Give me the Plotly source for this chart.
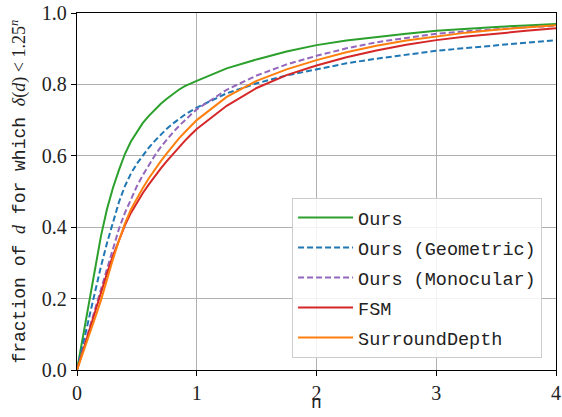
import plotly.graph_objects as go

x_vals = [0, 0.05, 0.1, 0.15, 0.2, 0.25, 0.3, 0.35, 0.4, 0.45, 0.5, 0.55, 0.6, 0.65, 0.7, 0.75, 0.8, 0.85, 0.9, 0.95, 1.0,
          1.25, 1.5, 1.75, 2.0, 2.25, 2.5, 2.75, 3.0, 3.25, 3.5, 3.75, 4.0]

ours = [0, 0.095, 0.19, 0.285, 0.375, 0.45, 0.51, 0.56, 0.605, 0.64, 0.668, 0.692, 0.712, 0.73, 0.746, 0.76, 0.773, 0.785, 0.795, 0.803, 0.81,
        0.845, 0.87, 0.892, 0.91, 0.923, 0.933, 0.942, 0.95, 0.956, 0.961, 0.965, 0.969]
ours_geometric = [0, 0.073, 0.145, 0.218, 0.29, 0.355, 0.415, 0.47, 0.515, 0.55, 0.578, 0.602, 0.623, 0.642, 0.66, 0.676, 0.69, 0.703, 0.715, 0.725, 0.735,
                  0.775, 0.803, 0.825, 0.843, 0.859, 0.872, 0.884, 0.894, 0.902, 0.91, 0.917, 0.924]
ours_monocular = [0, 0.057, 0.115, 0.172, 0.23, 0.285, 0.34, 0.395, 0.44, 0.48, 0.515, 0.546, 0.575, 0.601, 0.625, 0.646, 0.665, 0.683, 0.70, 0.715, 0.73,
                  0.785, 0.825, 0.856, 0.88, 0.901, 0.918, 0.931, 0.942, 0.949, 0.955, 0.96, 0.964]
fsm = [0, 0.055, 0.11, 0.163, 0.215, 0.27, 0.32, 0.365, 0.405, 0.44, 0.47, 0.496, 0.52, 0.543, 0.565, 0.585, 0.605, 0.624, 0.642, 0.659, 0.675,
       0.74, 0.79, 0.826, 0.853, 0.876, 0.895, 0.911, 0.924, 0.934, 0.943, 0.95, 0.957]
surrounddepth = [0, 0.047, 0.095, 0.145, 0.195, 0.255, 0.31, 0.362, 0.41, 0.45, 0.482, 0.51, 0.537, 0.562, 0.585, 0.607, 0.628, 0.648, 0.666, 0.683, 0.70,
                 0.765, 0.81, 0.842, 0.868, 0.89, 0.908, 0.923, 0.935, 0.945, 0.953, 0.96, 0.966]

series = [
    ("Ours", ours, "#2ca02c", "solid"),
    ("Ours (Geometric)", ours_geometric, "#1f77b4", "6px,3px"),
    ("Ours (Monocular)", ours_monocular, "#9467bd", "6px,3px"),
    ("FSM", fsm, "#d62728", "solid"),
    ("SurroundDepth", surrounddepth, "#ff7f0e", "solid"),
]

x_ticks = [0, 1, 2, 3, 4]
y_ticks = [0.0, 0.2, 0.4, 0.6, 0.8, 1.0]
x_ticktext = [str(v) for v in x_ticks]
y_ticktext = [f"{v:.1f}" for v in y_ticks]

MONO = "Liberation Mono"
SERIF = "Liberation Serif"

fig = go.Figure()
for i, (name, ys, color, dash) in enumerate(series):
    fig.add_trace(go.Scatter(
        x=x_vals, y=ys, mode="lines", name=name, legendgroup=f"g{i}",
        line=dict(color=color, width=2, dash=dash, shape="linear"),
    ))

axis_common = dict(
    showline=True, linecolor="black", linewidth=1.3, mirror=True,
    showgrid=True, gridcolor="#b0b0b0", gridwidth=1,
    ticks="outside", ticklen=5, tickwidth=1.2, tickcolor="black",
    zeroline=False, ticklabeloverflow="allow",
    tickfont=dict(family=SERIF, size=20, color="#222"),
)

fig.update_xaxes(range=[0, 4], tickvals=x_ticks, ticktext=x_ticktext, **axis_common)
fig.update_yaxes(range=[0, 1], tickvals=y_ticks, ticktext=y_ticktext, **axis_common)

fig.add_annotation(
    text="n", xref="paper", yref="paper", x=0.5, y=-0.092, showarrow=False,
    xanchor="center", yanchor="middle", font=dict(family=MONO, size=18, color="#222"),
)

ytitle = ("fraction of <span style=\"font-family:'Liberation Serif',serif\"><i>d</i></span> for which "
          "<span style=\"font-family:'Liberation Serif',serif\"><i>δ</i>(<i>d</i>) &lt; 1.25<sup><i>n</i></sup></span>")
fig.add_annotation(
    text=ytitle, xref="paper", yref="paper", x=-0.123, y=0.5, showarrow=False,
    textangle=-90, xanchor="center", yanchor="middle",
    font=dict(family=MONO, size=18, color="#222"),
)

fig.update_layout(
    template="none",
    width=562, height=417,
    margin=dict(l=77, r=6, t=13, b=47),
    paper_bgcolor="white", plot_bgcolor="white",
    showlegend=True,
    legend=dict(
        x=0.449, y=0.034, xanchor="left", yanchor="bottom",
        bgcolor="rgba(255,255,255,0.85)", bordercolor="#cccccc", borderwidth=1,
        font=dict(family=MONO, size=18.5, color="#222"),
        tracegroupgap=3, itemwidth=55,
    ),
)

fig.write_html("out.html")
